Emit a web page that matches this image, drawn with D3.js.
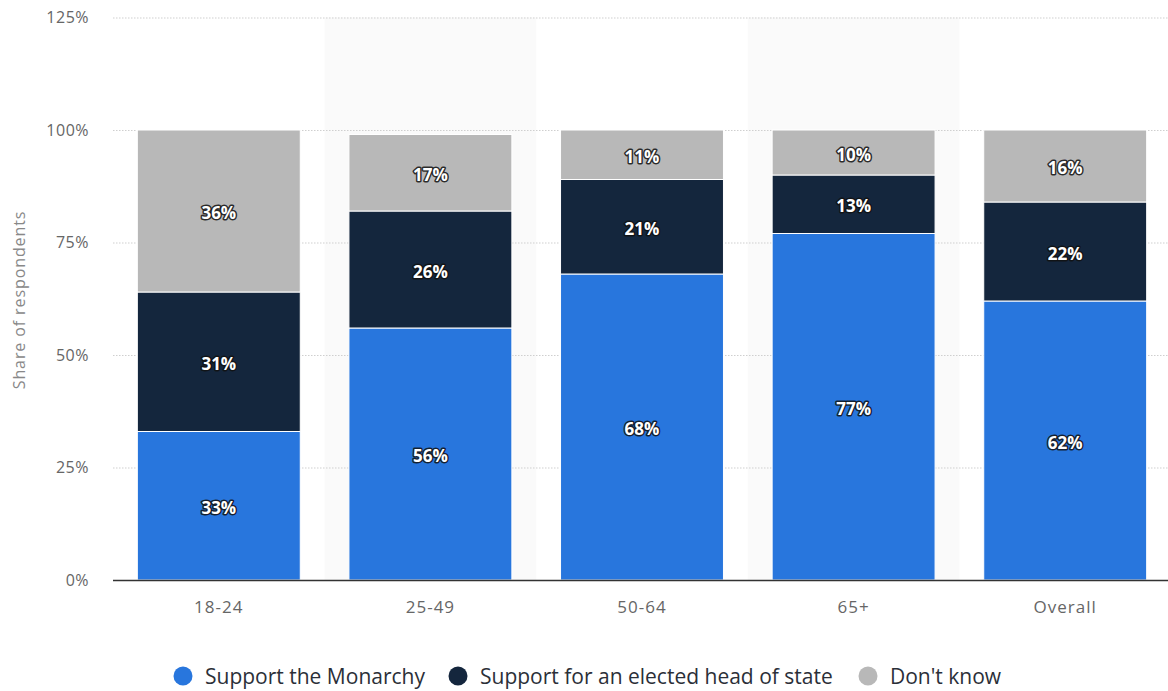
<!DOCTYPE html>
<html>
<head>
<meta charset="utf-8">
<script src="https://cdn.jsdelivr.net/npm/d3@7"></script>
<style>
  body { margin: 0; background: #fff; }
  svg text { font-family: "Open Sans", sans-serif; }
</style>
</head>
<body>
<svg id="chart" width="1168" height="691"></svg>
<script>
// data
const groups = ['18-24', '25-49', '50-64', '65+', 'Overall'];
const monarchy = [33, 56, 68, 77, 62];
const elected = [31, 26, 21, 13, 22];
const dontKnow = [36, 17, 11, 10, 16];
const seriesNames = ['Support the Monarchy', 'Support for an elected head of state', "Don't know"];
const seriesColors = ['#2876dd', '#14263d', '#b8b8b8'];
const yTicks = [0, 25, 50, 75, 100, 125];

const svg = d3.select('#chart');
const margin = { left: 113, right: 0, top: 17, bottom: 111 };
const W = 1168;

const x = d3.scaleBand()
  .domain(groups)
  .range([margin.left, 1171])
  .paddingInner(0);

const y = d3.scaleLinear()
  .domain([0, 125])
  .range([580, 17.5]);

// alternating band shading
svg.selectAll('.band')
  .data(groups.filter((_, i) => i % 2 === 1))
  .enter()
  .append('rect')
  .attr('x', (g) => x(g))
  .attr('y', y(125))
  .attr('width', x.bandwidth())
  .attr('height', y(0) - y(125))
  .attr('fill', '#fafafa');

// grid lines
svg.selectAll('.grid')
  .data(yTicks.filter((t) => t > 0))
  .enter()
  .append('line')
  .attr('x1', margin.left)
  .attr('x2', W)
  .attr('y1', (t) => y(t) + 0.5)
  .attr('y2', (t) => y(t) + 0.5)
  .attr('stroke', '#cfcfcf')
  .attr('stroke-dasharray', '1.5,1.5');

// y tick labels
svg.selectAll('.ytick')
  .data(yTicks)
  .enter()
  .append('text')
  .attr('x', 89)
  .attr('y', (t) => y(t) + 5.5)
  .attr('text-anchor', 'end')
  .attr('font-size', '16px')
  .attr('letter-spacing', '0.5px')
  .attr('fill', '#666')
  .text((t) => `${t}%`);

// y axis title
svg.append('text')
  .attr('transform', 'translate(25,300) rotate(-90)')
  .attr('text-anchor', 'middle')
  .attr('font-size', '16px')
  .attr('letter-spacing', '0.9px')
  .attr('fill', '#888')
  .text('Share of respondents');

// stack
const rows = groups.map((g, i) => ({ group: g, s0: monarchy[i], s1: elected[i], s2: dontKnow[i] }));
const stack = d3.stack().keys(['s0', 's1', 's2']);
const layers = stack(rows);

const barW = x.bandwidth() * 0.77;
const barOff = (x.bandwidth() - barW) / 2;

const layer = svg.selectAll('.layer')
  .data(layers)
  .enter()
  .append('g')
  .attr('fill', (_, i) => seriesColors[i]);

layer.selectAll('rect')
  .data((d) => d)
  .enter()
  .append('rect')
  .attr('x', (d) => x(d.data.group) + barOff)
  .attr('y', (d) => y(d[1]))
  .attr('width', barW)
  .attr('height', (d) => y(d[0]) - y(d[1]))
  .attr('stroke', '#fff')
  .attr('stroke-width', 1);

// value labels (white text with a dark halo)
layers.forEach((l) => {
  l.forEach((d) => {
    const v = d[1] - d[0];
    const lx = x(d.data.group) + x.bandwidth() / 2;
    const ly = (y(d[0]) + y(d[1])) / 2 + 8;
    [true, false].forEach((halo) => {
      svg.append('text')
        .attr('x', lx)
        .attr('y', ly)
        .attr('text-anchor', 'middle')
        .attr('font-size', '17px')
        .attr('font-weight', 'bold')
        .attr('fill', '#fff')
        .attr('stroke', halo ? '#111' : 'none')
        .attr('stroke-width', halo ? 3 : 0)
        .attr('stroke-linejoin', 'round')
        .attr('stroke-opacity', 0.85)
        .text(`${v}%`);
    });
  });
});

// x axis line
svg.append('line')
  .attr('x1', margin.left)
  .attr('x2', W)
  .attr('y1', 580.5)
  .attr('y2', 580.5)
  .attr('stroke', '#333')
  .attr('stroke-width', 1.5);

// x labels
svg.selectAll('.xlab')
  .data(groups)
  .enter()
  .append('text')
  .attr('x', (g) => x(g) + x.bandwidth() / 2)
  .attr('y', 613)
  .attr('text-anchor', 'middle')
  .attr('font-size', '17px')
  .attr('letter-spacing', '1px')
  .attr('fill', '#666')
  .text((g) => g);

// legend
const legendX = [183, 458, 868];
const legend = svg.selectAll('.legend')
  .data(seriesNames)
  .enter()
  .append('g')
  .attr('transform', (_, i) => `translate(${legendX[i]},676)`);

legend.append('circle')
  .attr('r', 9.5)
  .attr('fill', (_, i) => seriesColors[i]);

legend.append('text')
  .attr('x', 22)
  .attr('y', 7.5)
  .attr('font-family', 'Roboto, sans-serif')
  .attr('font-size', '21px')
  .attr('font-weight', 500)
  .attr('fill', '#2b2f38')
  .text((d) => d);
</script>
</body>
</html>
